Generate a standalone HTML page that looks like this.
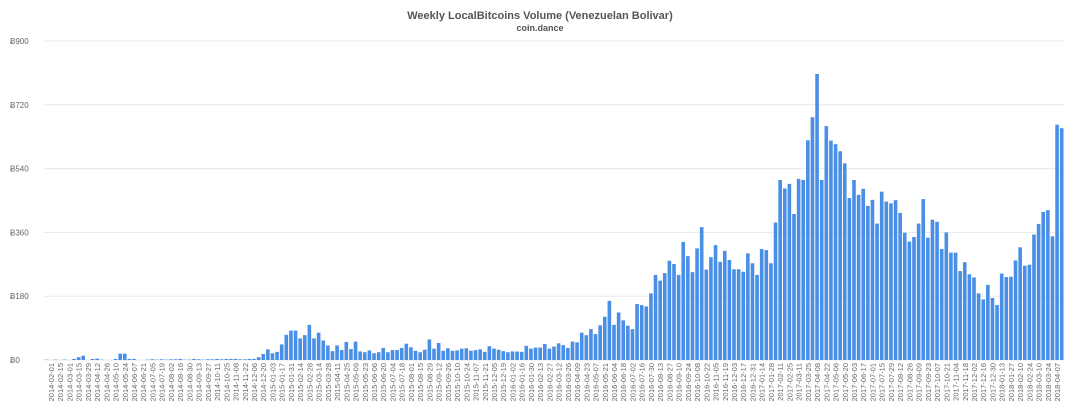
<!DOCTYPE html>
<html><head><meta charset="utf-8"><style>
html,body{margin:0;padding:0;background:#fff;width:1075px;height:420px;overflow:hidden}
svg{display:block}
text{font-family:"Liberation Sans",sans-serif}
</style></head><body>
<svg id="c" width="1075" height="420" xmlns="http://www.w3.org/2000/svg">
<text x="540" y="19" text-anchor="middle" font-size="11" font-weight="bold" fill="#555">Weekly LocalBitcoins Volume (Venezuelan Bolivar)</text>
<text x="540" y="31" text-anchor="middle" font-size="9" font-weight="bold" fill="#555">coin.dance</text>
</svg>
<script>
var v=[1,0,1,0,1,0,3,8,12,0,3,4,1,0,0,3,18,18,3,3,0,0,1,2,1,2,1,2,2,3,1,1,3,2,1,2,2,3,2,3,3,3,2,2,3,
3,8,17,30,19,23,44,71,83,83,61,70,99,61,77,55,41,25,41,28,51,31,52,24,22,27,19,22,34,22,28,28,34,46,36,26,22,29,58,32,48,26,33,26,27,32,33,26,28,30,23,39,32,29,25,22,24,24,23,40,32,35,35,
45,32,38,47,42,34,52,50,77,70,87,73,98,122,167,99,134,112,97,87,158,155,151,188,240,224,245,280,271,240,333,293,248,315,375,255,290,324,277,308,282,256,256,249,301,273,240,313,310,273,388,508,484,497,412,511,508,620,685,807,
508,660,619,609,589,555,457,508,466,483,435,452,385,475,447,442,451,415,359,334,347,385,454,345,396,390,313,360,303,303,251,276,242,233,188,171,212,175,155,244,234,235,281,318,266,269,354,384,418,423,349,664,654];
var s=document.getElementById('c'),h='';
var L=44,R=1064,B=360,k=0.3544;
[0,180,360,540,720,900].forEach(function(t){var y=B-t*k;
h+='<line x1="'+L+'" x2="'+R+'" y1="'+y.toFixed(1)+'" y2="'+y.toFixed(1)+'" stroke="#e8e8e8" stroke-width="1"/>';
h+='<text x="10" y="'+(y+3).toFixed(1)+'" font-size="8" fill="#666">Ƀ'+t+'</text>';});
var n=v.length,p=(R-L)/n;
var end=new Date(Date.UTC(2018,3,14));
for(var i=0;i<n;i++){var x=L+i*p,hh=v[i]*k;
h+='<rect x="'+(x+0.5).toFixed(2)+'" y="'+(B-hh).toFixed(2)+'" width="'+(p-1).toFixed(2)+'" height="'+hh.toFixed(2)+'" fill="#4a8fe6"/>';
if((n-1-i)%2==1){var d=new Date(end.getTime()-(n-1-i)*7*864e5);var ds=d.toISOString().slice(0,10);
var cx=x+p/2+3;h+='<text transform="translate('+cx.toFixed(1)+',363) rotate(-90)" text-anchor="end" font-size="7.5" fill="#666">'+ds+'</text>';}}
s.insertAdjacentHTML('beforeend',h);
</script>
</body></html>
